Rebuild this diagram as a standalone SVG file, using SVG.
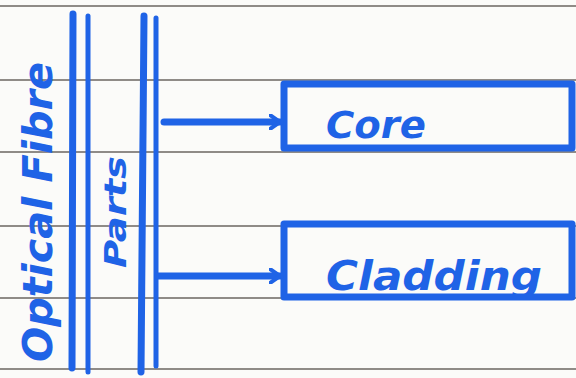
<svg xmlns="http://www.w3.org/2000/svg" width="576" height="378" viewBox="0 0 576 378">
<style>
.rule{stroke:#6b6660;stroke-width:1.6;fill:none}
.ink{stroke:#1f63e6;stroke-linecap:round;stroke-linejoin:round;fill:none}
.bar{stroke-width:7}
.thin{stroke-width:5}
.lbl{fill:#1f63e6;font-family:"DejaVu Sans",sans-serif;font-weight:bold;font-style:italic}
</style>
<defs>
<marker id="ah" viewBox="0 0 12 16" refX="11" refY="8" markerWidth="12" markerHeight="16" markerUnits="userSpaceOnUse" orient="auto">
<path d="M1,1 L11,8 L1,15" stroke="#1f63e6" stroke-width="4" fill="none" stroke-linecap="round" stroke-linejoin="round"/>
</marker>
</defs>
<rect width="576" height="378" fill="#fbfbf9"/>
<g id="paper">
<line class="rule" x1="0" y1="6" x2="576" y2="6"/>
<line class="rule" x1="0" y1="80" x2="576" y2="80"/>
<line class="rule" x1="0" y1="152" x2="576" y2="152"/>
<line class="rule" x1="0" y1="226" x2="576" y2="226"/>
<line class="rule" x1="0" y1="298" x2="576" y2="298"/>
<line class="rule" x1="0" y1="369" x2="576" y2="369"/>
</g>
<g id="optical-fibre">
<line class="ink bar" x1="73" y1="14" x2="72" y2="368"/>
<line class="ink thin" x1="88" y1="16" x2="88" y2="372"/>
<text class="lbl" transform="translate(52,362) rotate(-90)" font-size="40" textLength="300" lengthAdjust="spacingAndGlyphs">Optical Fibre</text>
</g>
<g id="parts">
<line class="ink bar" x1="144" y1="16" x2="141" y2="372"/>
<line class="ink thin" x1="156" y1="18" x2="156" y2="366"/>
<text class="lbl" transform="translate(126,268) rotate(-90)" font-size="30" textLength="112" lengthAdjust="spacingAndGlyphs">Parts</text>
</g>
<g id="core">
<rect class="ink bar" x="284" y="84" width="288" height="64"/>
<text class="lbl" x="326" y="138" font-size="38" textLength="100" lengthAdjust="spacingAndGlyphs">Core</text>
</g>
<g id="cladding">
<rect class="ink bar" x="284" y="224" width="288" height="73"/>
<text class="lbl" x="326" y="290" font-size="40" textLength="216" lengthAdjust="spacingAndGlyphs">Cladding</text>
</g>
<g id="connectors">
<line class="ink bar" x1="164" y1="122" x2="280" y2="122" marker-end="url(#ah)"/>
<line class="ink bar" x1="158" y1="276" x2="280" y2="276" marker-end="url(#ah)"/>
</g>
</svg>
